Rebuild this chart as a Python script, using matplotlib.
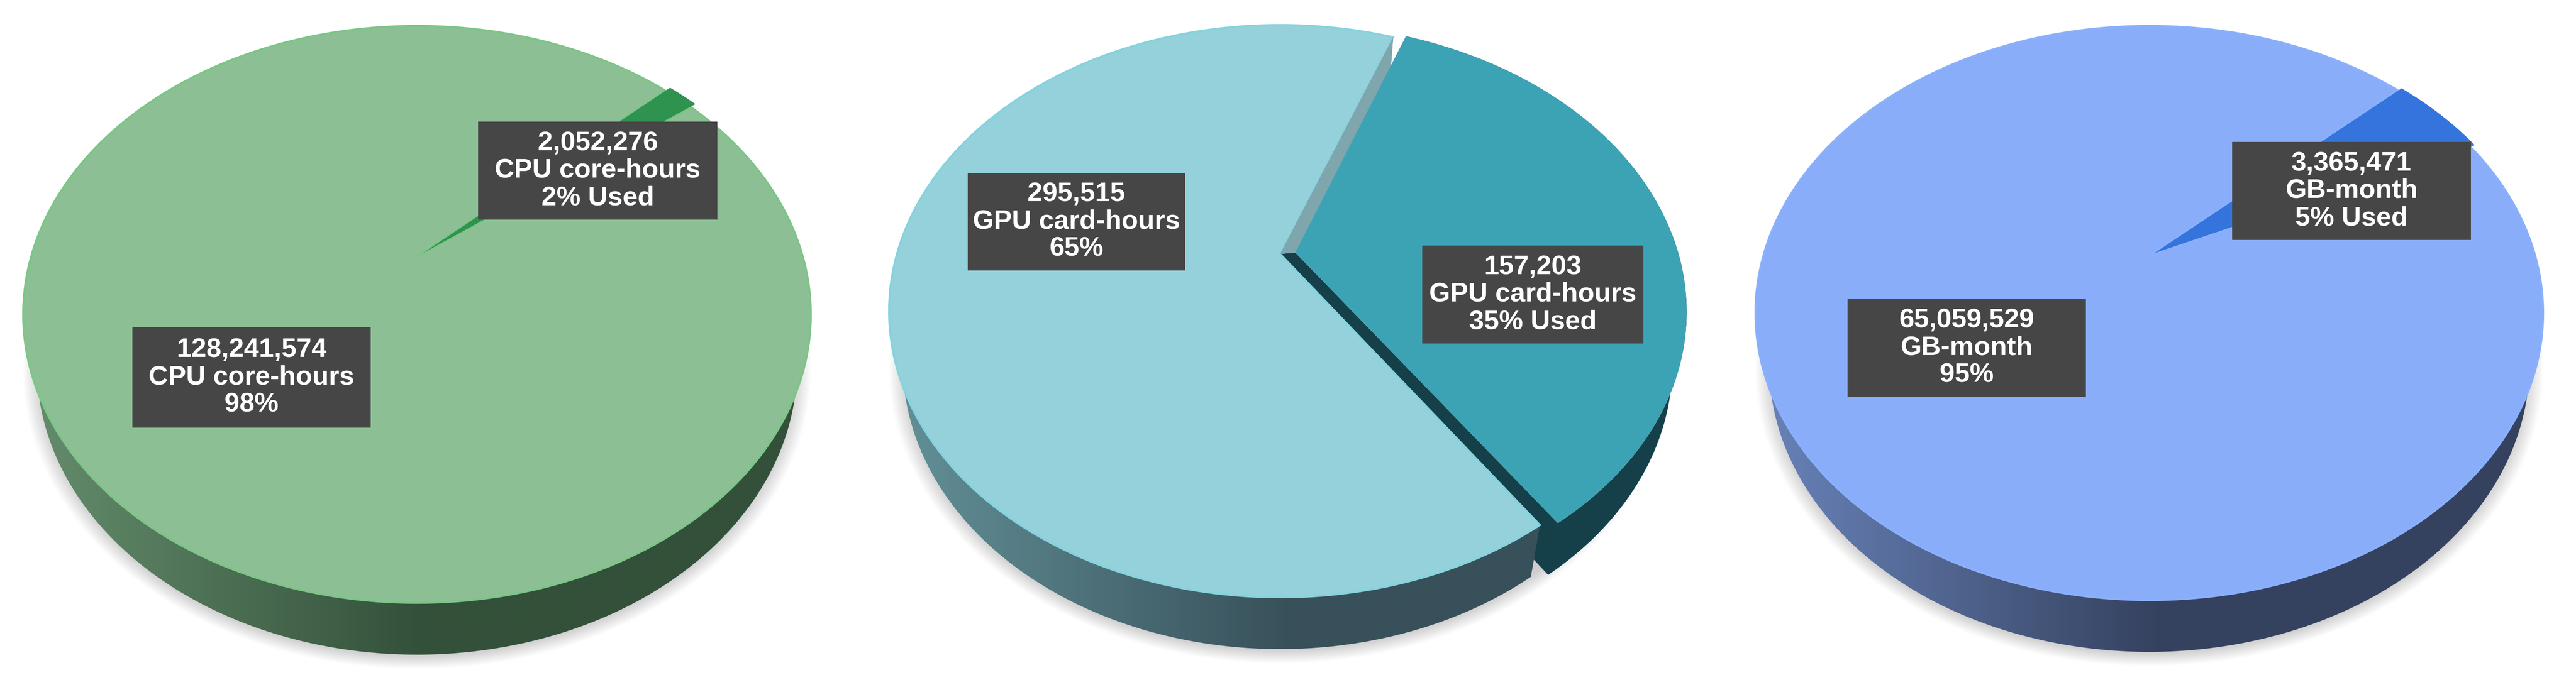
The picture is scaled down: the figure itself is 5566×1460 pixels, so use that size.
import matplotlib
matplotlib.use("Agg")
import matplotlib.pyplot as plt
from matplotlib.colors import to_rgb
from matplotlib.patches import Polygon, Rectangle
import numpy as np

plt.rcParams['font.family'] = ['Liberation Sans', 'DejaVu Sans']

# --- Data ---
cpu_values = [2052276, 128241574]
gpu_values = [157203, 295515]
disk_values = [3365471, 65059529]

cpu_labels = ["2,052,276\nCPU core-hours\n2% Used", "128,241,574\nCPU core-hours\n98%"]
gpu_labels = ["157,203\nGPU card-hours\n35% Used", "295,515\nGPU card-hours\n65%"]
disk_labels = ["3,365,471\nGB-month\n5% Used", "65,059,529\nGB-month\n95%"]

# --- Style: position of every pie, in image pixels ---
pies = [
    dict(values=cpu_values, labels=cpu_labels, start=43, explode=0.02,
         cx=901, cy=680, a=851, b=624,
         top="#8dbf95", edge="#7cc587", used="#2f9350", used_wall="#1f5c33",
         wall_light="#668f6e", wall_dark="#33503a", face=None,
         boxes=[(1033, 263, 1550, 475), (286, 708, 801, 925)]),
    dict(values=gpu_values, labels=gpu_labels, start=69.5, explode=0.04,
         cx=2766, cy=673, a=845, b=619,
         top="#95d1da", edge="#85d3dd", used="#3ca3b5", used_wall="#15404a",
         wall_light="#64939a", wall_dark="#38505a", face="#7fa5ad",
         boxes=[(3073, 531, 3551, 743), (2091, 374, 2561, 585)]),
    dict(values=disk_values, labels=disk_labels, start=43, explode=0.015,
         cx=4644, cy=677, a=851, b=621,
         top="#8aadfa", edge="#8ab0fc", used="#3574dc", used_wall="#2c4f9c",
         wall_light="#6a85bd", wall_dark="#35425f", face=None,
         boxes=[(4823, 307, 5339, 519), (3992, 647, 4507, 858)]),
]
depth = 112
taper = 0.965  # the foot of the cylinder is a little narrower than the top
k = 0.2  # how far the pie centre sits above the middle of the ellipse
box_color = "#464646"


def project(x, y, p):
    # tilt the flat unit pie so that its centre goes to the perspective apex
    d = 1 + k * y
    X = x * np.sqrt(1 - k ** 2) / d
    Y = (y + k) / d
    return np.column_stack([p["cx"] + p["a"] * X, p["cy"] - p["b"] * Y])


def arc_points(w, p):
    t = np.radians(np.linspace(w.theta1, w.theta2, 500))
    return project(w.center[0] + np.cos(t), w.center[1] + np.sin(t), p)


def apex_point(w, p):
    return project(np.array([w.center[0]]), np.array([w.center[1]]), p)


def foot(pts, p):
    # same points, moved down to the bottom of the cylinder
    out = np.array(pts, dtype=float)
    out[:, 0] = p["cx"] + (out[:, 0] - p["cx"]) * taper
    out[:, 1] = out[:, 1] + depth
    return out


def draw_wall(ax, arc, c_left, c_right, p, z):
    # side of the cylinder, with a shade running from left to right
    patch = Polygon(np.vstack([arc, foot(arc, p)[::-1]]), closed=True, fc="none", ec="none", zorder=z)
    ax.add_patch(patch)
    t = np.linspace(0, 1, 256)
    t = np.clip(t / 0.5, 0, 1)[None, :, None]
    shade = (1 - t) * np.array(to_rgb(c_left)) + t * np.array(to_rgb(c_right))
    x0 = p["cx"] - p["a"] - 20
    x1 = p["cx"] + p["a"] + 60
    im = ax.imshow(shade, extent=(x0, x1, p["cy"] + p["b"] + depth + 20, p["cy"] - p["b"] - 60),
                   aspect="auto", zorder=z, interpolation="bilinear")
    im.set_clip_path(patch)


def draw_shadow(ax, p):
    # soft grey shadow round the foot of the pie
    xs = np.arange(p["cx"] - p["a"] - 60, p["cx"] + p["a"] + 60, 4)
    ys = np.arange(p["cy"], p["cy"] + p["b"] + depth + 60, 4)
    gx, gy = np.meshgrid(xs, ys)
    dist = np.hypot((gx - p["cx"]) / (p["a"] * taper), (gy - p["cy"] - depth - 8) / p["b"])
    alpha = np.clip((1.04 - dist) / 0.05, 0, 1) * 0.3
    rgba = np.zeros(alpha.shape + (4,))
    rgba[..., :3] = 0.35
    rgba[..., 3] = alpha
    ax.imshow(rgba, extent=(xs[0], xs[-1], ys[-1], ys[0]), aspect="auto", zorder=1,
              interpolation="bilinear")


fig = plt.figure(figsize=(55.66, 14.6), dpi=100)
ax = fig.add_axes([0, 0, 1, 1])
scratch = plt.figure().add_subplot()  # only used to get the wedge angles from pie()

for p in pies:
    wedges, _ = scratch.pie(p["values"], startangle=p["start"], counterclock=False,
                            explode=[p["explode"], 0], radius=1)
    used, rest = wedges

    used_arc = arc_points(used, p)
    rest_arc = arc_points(rest, p)
    used_apex = apex_point(used, p)
    rest_apex = apex_point(rest, p)

    draw_shadow(ax, p)

    # walls first, lower slice faces hidden by the tops drawn later
    used_cut = np.vstack([used_apex, used_arc, foot(used_arc, p)[::-1], foot(used_apex, p), rest_apex])
    ax.add_patch(Polygon(used_cut, closed=True, fc=p["used_wall"], ec="none", zorder=2))
    draw_wall(ax, rest_arc, p["wall_light"], p["wall_dark"], p, 3)

    ax.add_patch(Polygon(np.vstack([rest_apex, rest_arc]), closed=True, fc=p["top"],
                         ec=p["edge"], lw=3, zorder=4))
    if p["face"]:
        # the cut face of the big slice, seen through the gap
        near = rest_arc[:1]
        face = np.vstack([rest_apex, near, foot(near, p), used_apex])
        ax.add_patch(Polygon(face, closed=True, fc=p["face"], ec="none", zorder=5))
    ax.add_patch(Polygon(np.vstack([used_apex, used_arc]), closed=True, fc=p["used"],
                         ec="none", zorder=6))

    for box, label in zip(p["boxes"], p["labels"]):
        x0, y0, x1, y1 = box
        ax.add_patch(Rectangle((x0, y0), x1 - x0, y1 - y0, fc=box_color, ec="none", zorder=7))
        ax.text((x0 + x1) / 2, (y0 + y1) / 2, label, color="white", fontsize=42,
                fontweight="bold", ha="center", va="center", linespacing=1.12, zorder=8)

ax.set_xlim(0, 5566)
ax.set_ylim(1460, 0)
ax.axis("off")

fig.savefig("out.png", dpi=100, facecolor="white")
